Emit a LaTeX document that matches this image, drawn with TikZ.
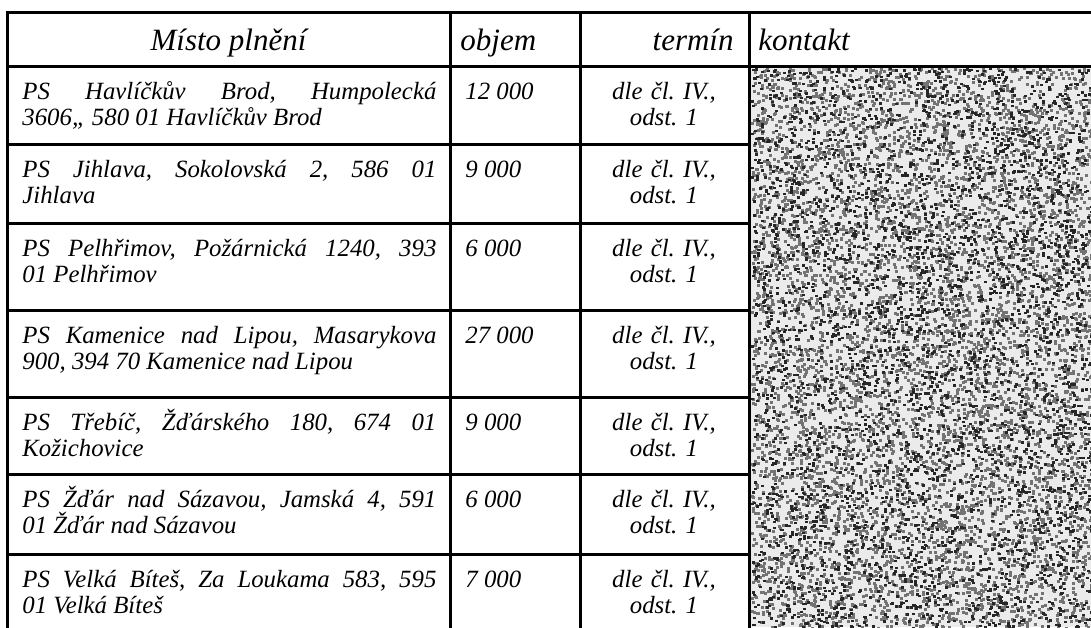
\documentclass[tikz,border=0pt]{standalone}
\usepackage{fontspec}
\setmainfont{Liberation Serif}
\frenchspacing
\tikzstyle{rule}=[line width=1.5pt, line cap=rect]
\tikzstyle{head}=[inner sep=0pt, font=\fontsize{15.5}{17}\selectfont\itshape]
\tikzstyle{place}=[inner sep=0pt, anchor=base west, text width=207pt, align=justify, font=\fontsize{12.4}{13}\selectfont\itshape]
\tikzstyle{volume}=[inner sep=0pt, anchor=base west, font=\fontsize{12.4}{13}\selectfont\itshape]
\tikzstyle{term}=[inner sep=0pt, anchor=base, text width=80pt, align=center, font=\fontsize{12.4}{13}\selectfont\itshape]
\tikzstyle{speck}=[black!55]
\tikzstyle{darkspeck}=[black!85]

\begin{document}
\begin{tikzpicture}[x=0.5pt, y=-0.5pt]
  \useasboundingbox (0,0) rectangle (1091,627);
  \begin{scope}
    \clip (751,67) rectangle (1091,627);
    \fill[black!8] (751,67) rectangle (1091,627);
    \pgfmathsetseed{4711}
    \foreach \i in {1,...,7000}
      \fill[speck] ({751+340*rnd},{67+560*rnd}) rectangle ++(3,3);
    \foreach \i in {1,...,4000}
      \fill[darkspeck] ({751+340*rnd},{67+560*rnd}) rectangle ++(3,2.5);
  \end{scope}

  \node[head, anchor=base] (headplace) at (228.5,50) {Místo plnění};
  \node[head, anchor=base west] (headvolume) at (460,50) {objem};
  \node[head, anchor=base east] (headterm) at (734,50) {termín};
  \node[head, anchor=base west] (headcontact) at (758,50) {kontakt};

  \foreach \rowtop/\addr/\vol [count=\r] in {
      {66/PS Havlíčkův Brod, Humpolecká\linebreak 3606,, 580 01 Havlíčkův Brod/12 000},
      {144/PS Jihlava, Sokolovská 2, 586 01\linebreak Jihlava/9 000},
      {223/PS Pelhřimov, Požárnická 1240, 393\linebreak 01 Pelhřimov/6 000},
      {310/PS Kamenice nad Lipou, Masarykova\linebreak 900, 394 70 Kamenice nad Lipou/27 000},
      {397/PS Třebíč, Žďárského 180, 674 01\linebreak Kožichovice/9 000},
      {474.5/PS Žďár nad Sázavou, Jamská 4, 591\linebreak 01 Žďár nad Sázavou/6 000},
      {554/PS Velká Bíteš, Za Loukama 583, 595\linebreak 01 Velká Bíteš/7 000}} {
    \node[place] (place\r) at (22,\rowtop+33) {\addr};
    \node[volume] (volume\r) at (465,\rowtop+33) {\vol};
    \node[term] (term\r) at (664,\rowtop+33) {dle čl. IV.,\\ odst. 1};
  }

  \foreach \y in {12,66}
    \draw[rule] (7,\y) -- (1091,\y);
  \foreach \y in {144,223,310,397,474.5,554}
    \draw[rule] (7,\y) -- (749,\y);
  \foreach \x in {7,450,580,749}
    \draw[rule] (\x,12) -- (\x,627);
\end{tikzpicture}
\end{document}
